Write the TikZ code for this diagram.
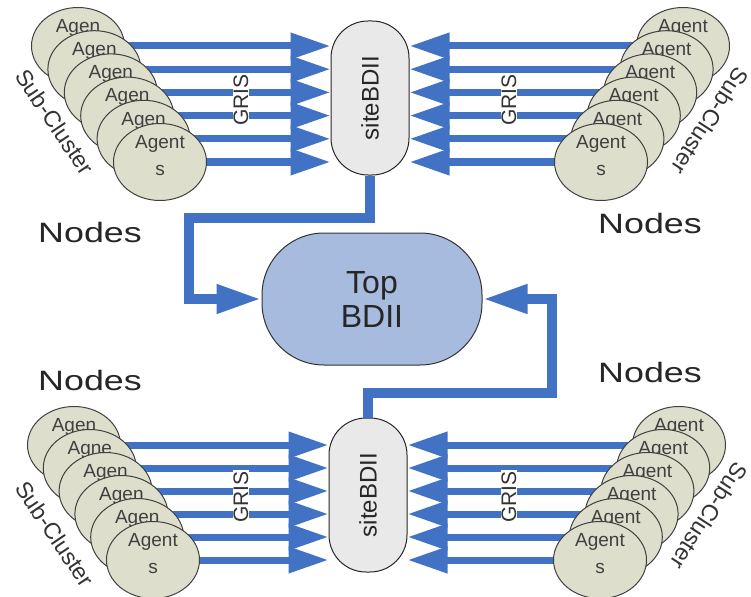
\documentclass[tikz,border=0pt]{standalone}
\usepackage{fontspec}
\setmainfont{Liberation Sans}
\usepackage{graphicx}
\usetikzlibrary{shapes.geometric}
\usetikzlibrary{arrows.meta}

\definecolor{grisblue}{RGB}{66,114,196}
\definecolor{agentfill}{RGB}{222,222,205}
\definecolor{sitefill}{RGB}{233,233,233}
\definecolor{topfill}{RGB}{167,187,223}

\begin{document}
\begin{tikzpicture}[x=1pt,y=-1pt,
    agent/.style={ellipse,draw=black!75,fill=agentfill,line width=1pt,minimum width=93pt,minimum height=77pt,inner sep=0pt},
    agtext/.style={font=\fontsize{19}{27}\selectfont,text=black!75,align=center,anchor=north,inner sep=0pt},
    sitebox/.style={draw=black!85,fill=sitefill,line width=1pt,rounded corners=37pt,minimum width=78pt,minimum height=154pt,font=\fontsize{24}{26}\selectfont,text=black!85},
    topbox/.style={draw=black!80,fill=topfill,line width=1pt,rounded corners=62pt,minimum width=220pt,minimum height=132pt,align=center,font=\fontsize{32}{34}\selectfont,text=black!85},
    gris/.style={draw=grisblue,line width=7pt,-{Triangle[length=40pt,width=25pt]}},
    feed/.style={draw=grisblue,line width=10pt,-{Triangle[length=45pt,width=27pt]}},
    lbl/.style={font=\fontsize{23}{25}\selectfont,text=black!80},
    grislbl/.style={font=\fontsize{21}{24}\selectfont,text=black!80,fill=white,inner sep=1pt},
    nodelbl/.style={font=\fontsize{28}{30}\selectfont,text=black!85}
  ]
  \useasboundingbox (0,0) rectangle (751,596);

  % site and top BDII
  \node[sitebox] (siteT) at (370,98) {\rotatebox{90}{siteBDII}};
  \node[sitebox] (siteB) at (368,495) {\rotatebox{90}{siteBDII}};
  \node[topbox] (topB) at (372,299) {Top\\BDII};

  \draw[feed] (siteT.south) -- ++(0,42) -- ++(-181,0) |- (topB.west);
  \draw[feed] (siteB.north) -- ++(0,-25) -- ++(184,0) |- (topB.east);

  % agent centres
  \foreach \i in {1,...,6} {
    \coordinate (tl\i) at ({78+16.4*(\i-1)},{46+23.2*(\i-1)});
    \coordinate (tr\i) at ({683-16.4*(\i-1)},{46+23.2*(\i-1)});
    \coordinate (bl\i) at ({74+15.8*(\i-1)},{445+23*(\i-1)});
    \coordinate (br\i) at ({679-15.8*(\i-1)},{445+23*(\i-1)});
  }

  % GRIS links
  \foreach \i in {1,...,6} {
    \draw[gris] (tl\i) -- (tl\i -| siteT.west);
    \draw[gris] (tr\i) -- (tr\i -| siteT.east);
    \draw[gris] (bl\i) -- (bl\i -| siteB.west);
    \draw[gris] (br\i) -- (br\i -| siteB.east);
  }

  % sub-clusters
  \foreach \t [count=\i] in {Agen,Agen,Agen,Agen,Agen,{Agent\\s}} {
    \node[agent] (tla\i) at (tl\i) {};
    \node[agtext] (tlt\i) at ([yshift=27pt]tl\i) {\t};
  }
  \foreach \t [count=\i] in {Agent,Agent,Agent,Agent,Agent,{Agent\\s}} {
    \node[agent] (tra\i) at (tr\i) {};
    \node[agtext] (trt\i) at ([yshift=27pt]tr\i) {\t};
  }
  \foreach \t [count=\i] in {Agen,Agne,Agen,Agen,Agen,{Agent\\s}} {
    \node[agent] (bla\i) at (bl\i) {};
    \node[agtext] (blt\i) at ([yshift=27pt]bl\i) {\t};
  }
  \foreach \t [count=\i] in {Agent,Agent,Agent,Agent,Agent,{Agent\\s}} {
    \node[agent] (bra\i) at (br\i) {};
    \node[agtext] (brt\i) at ([yshift=27pt]br\i) {\t};
  }

  % labels
  \node[grislbl] (grisTL) at (241,100) {\rotatebox{90}{GRIS}};
  \node[grislbl] (grisTR) at (509,100) {\rotatebox{90}{GRIS}};
  \node[grislbl] (grisBL) at (241,497) {\rotatebox{90}{GRIS}};
  \node[grislbl] (grisBR) at (509,497) {\rotatebox{90}{GRIS}};

  \node[lbl,rotate=-56] (subTL) at (55,122) {Sub-Cluster};
  \node[lbl,rotate=-123] (subTR) at (710,121) {Sub-Cluster};
  \node[lbl,rotate=-56] (subBL) at (55,534) {Sub-Cluster};
  \node[lbl,rotate=-123] (subBR) at (709,516) {Sub-Cluster};

  \node[nodelbl] (nodTL) at (90,232) {\scalebox{1.28}[1]{Nodes}};
  \node[nodelbl] (nodTR) at (650,223) {\scalebox{1.28}[1]{Nodes}};
  \node[nodelbl] (nodBL) at (90,380) {\scalebox{1.28}[1]{Nodes}};
  \node[nodelbl] (nodBR) at (650,372) {\scalebox{1.28}[1]{Nodes}};
\end{tikzpicture}
\end{document}
